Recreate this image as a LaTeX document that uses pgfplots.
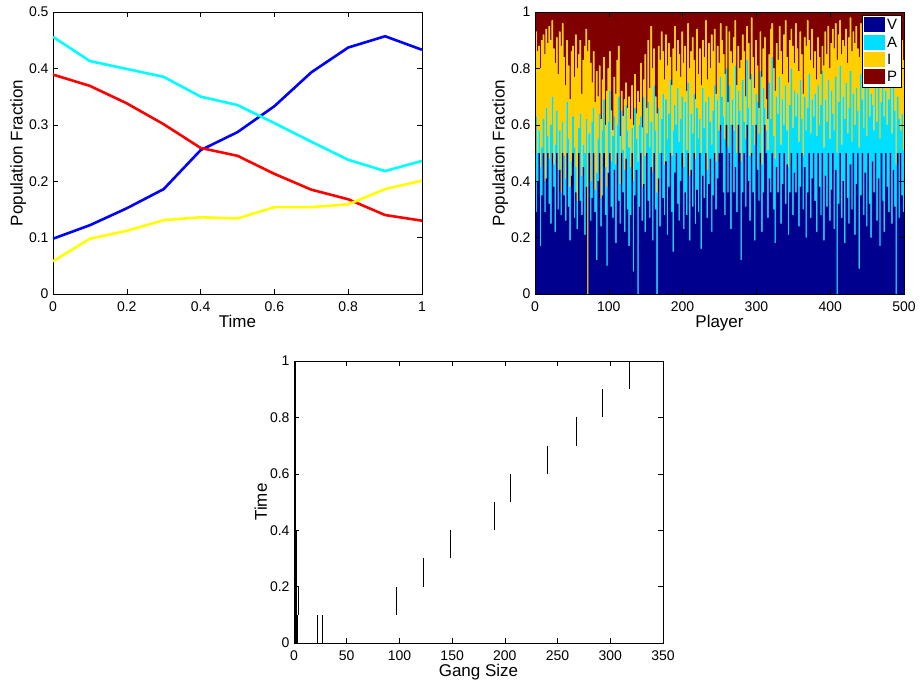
\documentclass[border=0pt]{standalone}
\usepackage{pgfplots}
\pgfplotsset{compat=1.18}
\usepackage{pgfplotstable}
\usepackage{fontspec}
\setmainfont{Liberation Sans}
\definecolor{cV}{RGB}{0,0,143}
\definecolor{cA}{RGB}{0,223,255}
\definecolor{cI}{RGB}{255,207,0}
\definecolor{cP}{RGB}{128,0,0}
\definecolor{lBlue}{RGB}{0,0,255}
\definecolor{lCyan}{RGB}{0,255,255}
\definecolor{lRed}{RGB}{255,0,0}
\definecolor{lYellow}{RGB}{255,255,0}

\pgfplotstableread{
V A I P
0.29 0.34 0.30 0.07
0.40 0.10 0.36 0.14
0.50 0.08 0.30 0.12
0.17 0.28 0.35 0.20
0.35 0.17 0.38 0.10
0.50 0.12 0.30 0.08
0.29 0.11 0.45 0.15
0.41 0.25 0.28 0.06
0.50 0.06 0.33 0.11
0.32 0.16 0.47 0.05
0.25 0.35 0.30 0.10
0.50 0.20 0.27 0.03
0.38 0.08 0.41 0.13
0.22 0.31 0.29 0.18
0.50 0.15 0.26 0.09
0.30 0.14 0.34 0.22
0.44 0.14 0.35 0.07
0.28 0.08 0.52 0.12
0.50 0.11 0.35 0.04
0.35 0.14 0.35 0.16
0.26 0.15 0.33 0.26
0.50 0.18 0.22 0.10
0.31 0.24 0.26 0.19
0.19 0.19 0.31 0.31
0.42 0.05 0.39 0.14
0.50 0.13 0.25 0.12
0.27 0.25 0.25 0.23
0.36 0.09 0.47 0.08
0.23 0.10 0.47 0.20
0.50 0.09 0.26 0.15
0.33 0.31 0.26 0.10
0.28 0.14 0.29 0.29
0.45 0.08 0.30 0.17
0.21 0.29 0.38 0.12
0.38 0.24 0.32 0.06
0.00 0.00 0.86 0.14
0.50 0.07 0.33 0.10
0.26 0.14 0.42 0.18
0.34 0.27 0.14 0.25
0.50 0.16 0.20 0.14
0.29 0.08 0.31 0.32
0.12 0.31 0.36 0.21
0.40 0.15 0.15 0.30
0.50 0.14 0.17 0.19
0.24 0.10 0.28 0.38
0.35 0.23 0.18 0.24
0.50 0.19 0.15 0.16
0.28 0.17 0.15 0.40
0.10 0.28 0.34 0.28
0.43 0.18 0.19 0.20
0.50 0.22 0.14 0.14
0.31 0.16 0.18 0.35
0.27 0.29 0.02 0.42
0.44 0.19 0.14 0.23
0.18 0.28 0.25 0.29
0.50 0.10 0.23 0.17
0.33 0.37 0.18 0.12
0.25 0.14 0.17 0.44
0.50 0.15 0.07 0.28
0.36 0.15 0.12 0.37
0.22 0.22 0.25 0.31
0.48 0.19 0.08 0.25
0.30 0.28 0.08 0.34
0.17 0.35 0.18 0.30
0.28 0.17 0.17 0.38
0.50 0.09 0.15 0.26
0.08 0.32 0.20 0.40
0.35 0.31 0.12 0.22
0.44 0.11 0.09 0.36
0.00 0.47 0.25 0.28
0.31 0.29 0.08 0.32
0.50 0.13 0.19 0.18
0.26 0.12 0.21 0.41
0.39 0.31 0.06 0.24
0.22 0.27 0.36 0.15
0.50 0.07 0.09 0.34
0.33 0.35 0.22 0.10
0.27 0.25 0.21 0.27
0.45 0.16 0.34 0.05
0.19 0.24 0.37 0.20
0.50 0.24 0.13 0.13
0.30 0.28 0.12 0.30
0.00 0.36 0.28 0.36
0.41 0.25 0.22 0.12
0.24 0.26 0.33 0.17
0.50 0.12 0.31 0.07
0.34 0.37 0.15 0.14
0.28 0.18 0.30 0.24
0.47 0.22 0.23 0.08
0.21 0.34 0.26 0.19
0.38 0.26 0.25 0.11
0.50 0.26 0.08 0.16
0.29 0.20 0.25 0.26
0.15 0.43 0.29 0.13
0.43 0.24 0.28 0.05
0.50 0.10 0.19 0.21
0.32 0.41 0.17 0.10
0.26 0.28 0.31 0.15
0.40 0.22 0.15 0.23
0.50 0.20 0.23 0.07
0.23 0.22 0.37 0.18
0.36 0.32 0.20 0.12
0.28 0.23 0.21 0.28
0.50 0.25 0.21 0.04
0.19 0.23 0.38 0.20
0.44 0.20 0.22 0.14
0.31 0.26 0.34 0.09
0.50 0.21 0.12 0.17
0.25 0.23 0.21 0.31
0.37 0.29 0.28 0.06
0.29 0.26 0.23 0.22
0.50 0.12 0.25 0.13
0.16 0.34 0.24 0.26
0.42 0.31 0.17 0.10
0.34 0.25 0.25 0.16
0.50 0.18 0.29 0.03
0.27 0.17 0.32 0.24
0.39 0.31 0.19 0.11
0.48 0.13 0.19 0.20
0.22 0.31 0.39 0.08
0.35 0.30 0.21 0.14
0.50 0.24 0.20 0.06
0.30 0.17 0.24 0.29
0.41 0.28 0.19 0.12
0.50 0.08 0.24 0.18
0.60 0.17 0.19 0.04
0.50 0.20 0.20 0.10
0.36 0.27 0.22 0.15
0.28 0.27 0.23 0.22
0.60 0.20 0.15 0.05
0.36 0.16 0.16 0.32
0.50 0.24 0.19 0.07
0.23 0.37 0.26 0.14
0.60 0.09 0.13 0.18
0.36 0.22 0.33 0.09
0.45 0.36 0.16 0.03
0.29 0.21 0.24 0.26
0.60 0.12 0.16 0.12
0.50 0.15 0.15 0.20
0.12 0.35 0.36 0.17
0.36 0.40 0.16 0.08
0.50 0.11 0.25 0.14
0.31 0.24 0.15 0.30
0.60 0.23 0.12 0.05
0.40 0.26 0.23 0.11
0.26 0.23 0.27 0.24
0.50 0.28 0.20 0.02
0.36 0.24 0.24 0.16
0.19 0.34 0.20 0.27
0.60 0.11 0.19 0.10
0.44 0.24 0.13 0.19
0.33 0.24 0.09 0.34
0.50 0.29 0.14 0.07
0.22 0.24 0.31 0.23
0.36 0.37 0.14 0.13
0.60 0.06 0.25 0.09
0.50 0.08 0.11 0.31
0.27 0.24 0.11 0.38
0.41 0.34 0.10 0.15
0.36 0.26 0.32 0.06
0.50 0.34 0.12 0.04
0.30 0.26 0.24 0.20
0.18 0.30 0.24 0.28
0.45 0.25 0.19 0.11
0.36 0.28 0.19 0.17
0.50 0.27 0.18 0.05
0.25 0.28 0.33 0.14
0.39 0.30 0.09 0.22
0.50 0.10 0.32 0.08
0.32 0.42 0.23 0.03
0.46 0.12 0.26 0.16
0.21 0.24 0.30 0.25
0.36 0.31 0.23 0.10
0.50 0.30 0.14 0.06
0.28 0.31 0.29 0.12
0.43 0.29 0.10 0.18
0.36 0.27 0.33 0.04
0.50 0.21 0.16 0.13
0.24 0.30 0.25 0.21
0.38 0.38 0.17 0.07
0.50 0.12 0.23 0.15
0.30 0.19 0.22 0.29
0.45 0.25 0.21 0.09
0.20 0.38 0.30 0.12
0.36 0.30 0.31 0.03
0.50 0.28 0.12 0.10
0.27 0.30 0.26 0.17
0.41 0.28 0.25 0.06
0.50 0.13 0.17 0.20
0.33 0.38 0.15 0.14
0.22 0.34 0.20 0.24
0.50 0.24 0.17 0.09
0.38 0.22 0.24 0.16
0.28 0.39 0.11 0.22
0.50 0.29 0.09 0.12
0.19 0.33 0.29 0.19
0.42 0.27 0.24 0.07
0.31 0.30 0.24 0.15
0.50 0.26 0.19 0.05
0.26 0.29 0.25 0.20
0.37 0.35 0.17 0.11
0.50 0.14 0.30 0.06
0.23 0.35 0.29 0.13
0.44 0.33 0.19 0.04
0.00 0.50 0.33 0.17
0.32 0.36 0.24 0.08
0.50 0.31 0.16 0.03
0.27 0.26 0.32 0.15
0.40 0.30 0.20 0.10
0.18 0.44 0.26 0.12
0.50 0.25 0.19 0.06
0.34 0.23 0.25 0.18
0.25 0.41 0.25 0.09
0.46 0.33 0.19 0.02
0.30 0.24 0.32 0.14
0.50 0.21 0.22 0.07
0.21 0.39 0.29 0.11
0.39 0.34 0.22 0.05
0.50 0.15 0.22 0.13
0.09 0.43 0.32 0.16
0.35 0.43 0.18 0.04
0.50 0.19 0.21 0.10
0.28 0.31 0.33 0.08
0.43 0.32 0.22 0.03
0.24 0.32 0.29 0.15
0.50 0.30 0.14 0.06
0.32 0.31 0.25 0.12
0.20 0.51 0.25 0.04
0.47 0.20 0.24 0.09
0.36 0.22 0.25 0.17
0.50 0.27 0.22 0.01
0.26 0.35 0.28 0.11
0.41 0.33 0.19 0.07
0.17 0.38 0.32 0.13
0.50 0.18 0.27 0.05
0.33 0.43 0.14 0.10
0.22 0.41 0.23 0.14
0.50 0.22 0.25 0.03
0.38 0.22 0.32 0.08
0.29 0.40 0.15 0.16
0.50 0.28 0.18 0.04
0.25 0.32 0.34 0.09
0.44 0.29 0.15 0.12
0.31 0.34 0.29 0.06
0.00 0.46 0.34 0.20
0.50 0.20 0.22 0.08
0.27 0.35 0.34 0.04
0.50 0.08 0.16 0.26
0.35 0.29 0.26 0.10
0.29 0.22 0.32 0.17
}\players

\pgfplotsset{
  matlab/.style={
    scale only axis, width=369pt, height=282pt,
    tick align=inside, tick pos=both,
    major tick length=5pt,
    axis line style={line width=0.7pt},
    every tick/.style={black, line width=0.6pt},
    ticklabel style={font=\fontsize{14}{16}\selectfont},
    label style={font=\fontsize{17}{19}\selectfont},
    /pgf/number format/assume math mode=true,
    scaled ticks=false,
    xticklabel style={yshift=-4pt},
    yticklabel style={xshift=-1pt},
    xlabel style={yshift=3pt},
    ylabel style={yshift=-4pt},
  },
  myleg/.style={legend image code/.code={\fill[##1] (0pt,-7pt) rectangle (21pt,8pt);}},
}

\begin{document}
\begin{tikzpicture}
\useasboundingbox (0pt,0pt) rectangle (921pt,-680pt);

% top left
\begin{axis}[matlab, at={(53pt,-294pt)}, anchor=south west,
  xmin=0, xmax=1, ymin=0, ymax=0.5,
  xtick={0,0.2,...,1}, ytick={0,0.1,...,0.5},
  xlabel={Time}, ylabel={Population Fraction}]
\addplot[lBlue, line width=2.6pt] coordinates {(0,0.098)(0.1,0.122)(0.2,0.152)(0.3,0.186)(0.4,0.255)(0.5,0.287)(0.6,0.333)(0.7,0.393)(0.8,0.437)(0.9,0.457)(1,0.433)};
\addplot[lCyan, line width=2.6pt] coordinates {(0,0.456)(0.1,0.413)(0.2,0.399)(0.3,0.385)(0.4,0.350)(0.5,0.335)(0.6,0.303)(0.7,0.270)(0.8,0.238)(0.9,0.218)(1,0.236)};
\addplot[lRed, line width=2.6pt] coordinates {(0,0.389)(0.1,0.369)(0.2,0.338)(0.3,0.301)(0.4,0.259)(0.5,0.245)(0.6,0.213)(0.7,0.185)(0.8,0.168)(0.9,0.140)(1,0.130)};
\addplot[lYellow, line width=2.6pt] coordinates {(0,0.058)(0.1,0.098)(0.2,0.112)(0.3,0.131)(0.4,0.136)(0.5,0.134)(0.6,0.154)(0.7,0.154)(0.8,0.159)(0.9,0.186)(1,0.201)};
\end{axis}

% top right
\begin{axis}[matlab, at={(535pt,-294pt)}, anchor=south west,
  xmin=0, xmax=500, ymin=0, ymax=1,
  xtick={0,100,...,500}, ytick={0,0.2,...,1},
  xlabel={Player}, ylabel={Population Fraction},
  ybar stacked, bar width=2.1, axis on top,
  legend style={at={(0.993,0.99)}, anchor=north east, draw=black, line width=0.8pt,
    font=\fontsize{15}{16}\selectfont, inner sep=2pt, row sep=1.5pt,
    cells={anchor=west}, legend cell align=left}]
\addplot[fill=cV, draw=none, myleg] table[x expr=2*\coordindex+1.5, y=V]{\players};
\addplot[fill=cA, draw=none, myleg] table[x expr=2*\coordindex+1.5, y=A]{\players};
\addplot[fill=cI, draw=none, myleg] table[x expr=2*\coordindex+1.5, y=I]{\players};
\addplot[fill=cP, draw=none, myleg] table[x expr=2*\coordindex+1.5, y=P]{\players};
\legend{V,A,I,P}
\end{axis}

% bottom
\begin{axis}[matlab, at={(294pt,-643pt)}, anchor=south west,
  xmin=0, xmax=350, ymin=0, ymax=1,
  xtick={0,50,...,350}, ytick={0,0.2,...,1},
  xlabel={Gang Size}, ylabel={Time}]
\addplot[black, line width=1.8pt] coordinates {(1,0)(1,1)};
\addplot[black, line width=0.9pt, unbounded coords=jump] coordinates {
 (2.3,0)(2.3,0.4) (nan,nan)
 (3,0)(3,0.1) (nan,nan)
 (3.8,0.1)(3.8,0.2) (nan,nan)
 (22,0)(22,0.1) (nan,nan)
 (27,0)(27,0.1) (nan,nan)
 (97,0.1)(97,0.2) (nan,nan)
 (123,0.2)(123,0.3) (nan,nan)
 (148,0.3)(148,0.4) (nan,nan)
 (190,0.4)(190,0.5) (nan,nan)
 (205,0.5)(205,0.6) (nan,nan)
 (240,0.6)(240,0.7) (nan,nan)
 (268,0.7)(268,0.8) (nan,nan)
 (293,0.8)(293,0.9) (nan,nan)
 (318,0.9)(318,1)};
\end{axis}
\end{tikzpicture}
\end{document}
